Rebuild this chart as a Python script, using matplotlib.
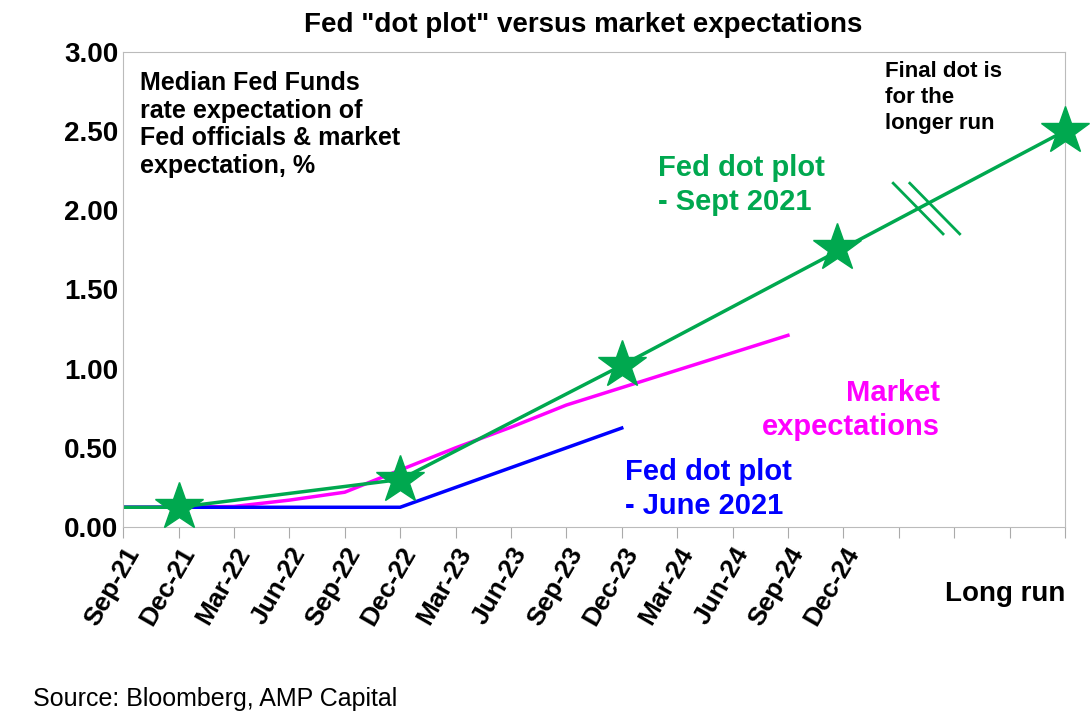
import matplotlib.pyplot as plt

plt.rcParams['font.family'] = ['Liberation Sans', 'DejaVu Sans']

quarters = ["Sep-21", "Dec-21", "Mar-22", "Jun-22", "Sep-22", "Dec-22", "Mar-23", "Jun-23",
            "Sep-23", "Dec-23", "Mar-24", "Jun-24", "Sep-24", "Dec-24"]
sept_x = [0, 1, 5, 9, 13, 17]
sept_y = [0.125, 0.125, 0.30, 1.02, 1.76, 2.50]
star_x = [1, 5, 9, 13, 17]
star_y = [0.125, 0.30, 1.02, 1.76, 2.50]
june_x = [0, 5, 9]
june_y = [0.125, 0.125, 0.625]
market_x = list(range(13))
market_y = [0.125, 0.125, 0.13, 0.17, 0.22, 0.36, 0.50, 0.63, 0.77, 0.88, 0.99, 1.10, 1.21]

green = "#00A84F"
fig = plt.figure(figsize=(10.9, 7.28), dpi=100)
ax = fig.add_axes([0.113, 0.276, 0.864, 0.653])

ax.plot(market_x, market_y, color="#FF00FF", lw=2.5)
ax.plot(june_x, june_y, color="#0000FF", lw=2.5)
ax.plot(sept_x, sept_y, color=green, lw=2.5)
ax.plot([x - 0.12 if x == 13 else x for x in star_x], star_y, ls="none", marker="*",
        ms=36, color=green, clip_on=False, zorder=5)

# break marks on long-run segment
for dx in (0, 0.3):
    ax.plot([13.9 + dx, 14.8 + dx], [2.17, 1.85], color=green, lw=2)

ax.set_xlim(0, 17)
ax.set_ylim(0, 3)
ax.set_xticks(range(18))
ax.set_xticklabels(quarters + ["", "", "", ""], rotation=60, ha="right",
                   rotation_mode="anchor", fontsize=19, fontweight="bold")
ax.set_yticks([0, 0.5, 1, 1.5, 2, 2.5, 3])
ax.set_yticklabels([f"{v:.2f}" for v in ax.get_yticks()], fontsize=20, fontweight="bold")
ax.tick_params(axis="x", length=8, direction="out", color="#aaaaaa")
ax.tick_params(axis="y", length=0)
for s in ax.spines.values():
    s.set_color("#bbbbbb")

ax.text(17.0, -0.42, "Long run", fontsize=20, fontweight="bold", ha="right", va="center")
ax.text(0.3, 2.88, "Median Fed Funds\nrate expectation of\nFed officials & market\nexpectation, %",
        fontsize=18, fontweight="bold", va="top", linespacing=1.2)
ax.text(13.75, 2.94, "Final dot is\nfor the\nlonger run", fontsize=16, fontweight="bold",
        va="top", linespacing=1.3)
ax.text(9.65, 2.0, "Fed dot plot\n- Sept 2021", fontsize=21, fontweight="bold",
        color=green, linespacing=1.3)
ax.text(14.75, 0.58, "Market\nexpectations", fontsize=21, fontweight="bold",
        color="#FF00FF", ha="right", linespacing=1.3)
ax.text(9.05, 0.08, "Fed dot plot\n- June 2021", fontsize=21, fontweight="bold",
        color="#0000FF", linespacing=1.3)

fig.text(0.535, 0.965, 'Fed "dot plot" versus market expectations', fontsize=20,
         fontweight="bold", ha="center", va="center")
fig.text(0.03, 0.04, "Source: Bloomberg, AMP Capital", fontsize=18, va="center")

fig.savefig("out.png", dpi=100)
